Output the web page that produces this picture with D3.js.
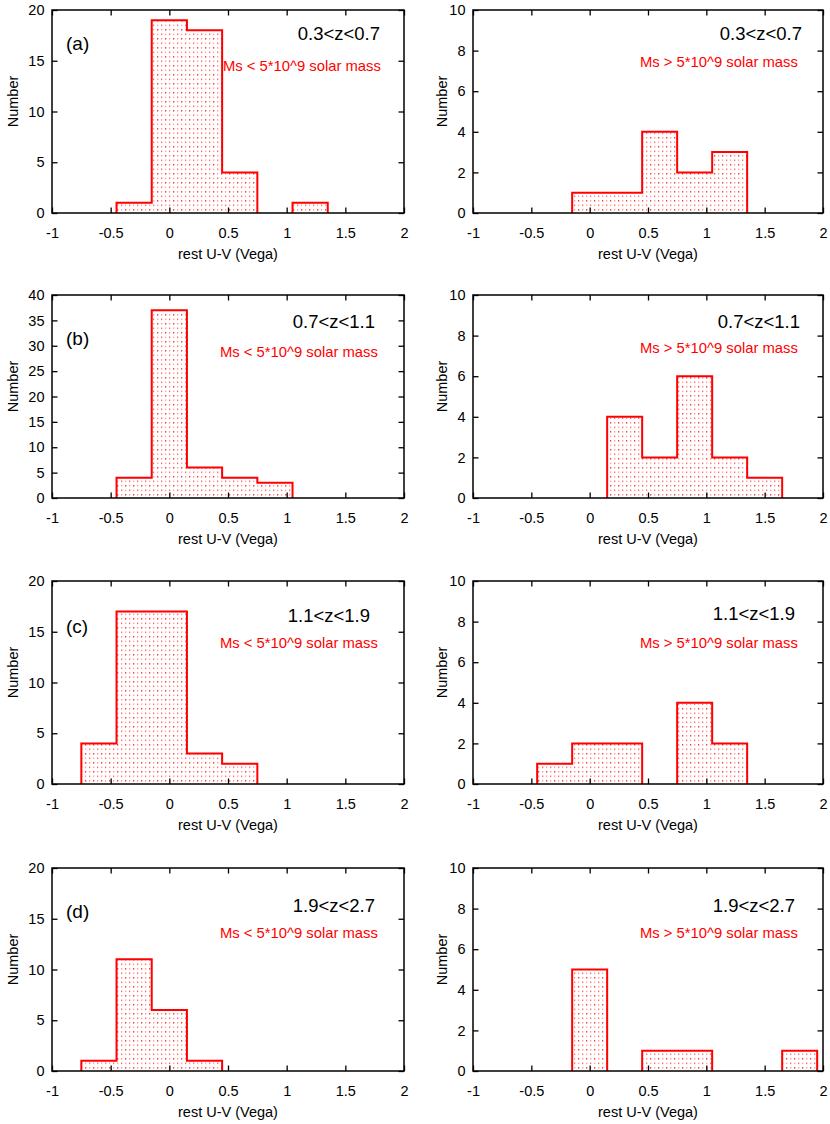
<!DOCTYPE html>
<html>
<head>
<meta charset="utf-8">
<script src="https://cdn.jsdelivr.net/npm/d3@7"></script>
<style>
  body { margin: 0; background: #fff; }
  svg { display: block; font-family: "Liberation Sans", Arial, sans-serif; }
  .axis path { display: none; }
  .axis line { stroke: #000; stroke-width: 1.3; }
  .axis text { font-size: 14.5px; fill: #000; }
</style>
</head>
<body>
<svg class="chart"></svg>
<script>
// histogram bins of rest U-V, width 0.3
var binCenters = [-0.6, -0.3, 0, 0.3, 0.6, 0.9, 1.2, 1.5, 1.8];
var binWidth = 0.3;

// counts, Ms < 5*10^9 (left column)
var lowMassA = [0, 1, 19, 18, 4, 0, 1, 0, 0];
var lowMassB = [0, 4, 37, 6, 4, 3, 0, 0, 0];
var lowMassC = [4, 17, 17, 3, 2, 0, 0, 0, 0];
var lowMassD = [1, 11, 6, 1, 0, 0, 0, 0, 0];

// counts, Ms > 5*10^9 (right column)
var highMassA = [0, 0, 1, 1, 4, 2, 3, 0, 0];
var highMassB = [0, 0, 0, 4, 2, 6, 2, 1, 0];
var highMassC = [0, 1, 2, 2, 0, 4, 2, 0, 0];
var highMassD = [0, 0, 5, 0, 1, 1, 0, 0, 1];

var panelLetters = ["(a)", "(b)", "(c)", "(d)"];
var zRanges = ["0.3<z<0.7", "0.7<z<1.1", "1.1<z<1.9", "1.9<z<2.7"];
var lowMassLabel = "Ms < 5*10^9 solar mass";
var highMassLabel = "Ms > 5*10^9 solar mass";

var yMaxLow = [20, 40, 20, 20], yStepLow = 5;
var yMaxHigh = [10, 10, 10, 10], yStepHigh = 2;
var xTicks = [-1, -0.5, 0, 0.5, 1, 1.5, 2];

//layout
var width = 830, height = 1124;
var cols = [{x0: 52, x1: 404}, {x0: 473, x1: 823}];
var rowTops = [10, 295, 581, 868], plotH = 203;
var titlePos = [[[-24, 30], [-29, 33], [-34, 41], [-29, 44]],
                [[-21, 30], [-23, 33], [-28, 39], [-28, 44]]];
var massPos = [[[171, 61], [168, 62], [168, 67], [168, 70]],
               [[167, 57], [167, 58], [167, 67], [167, 70]]];
var letterPos = [40, 50, 52, 50];

var red = "#ff0000";

var chart = d3.select(".chart")
    .attr("width", width)
    .attr("height", height);

// dotted fill like gnuplot pattern
var pat = chart.append("defs").append("pattern")
    .attr("id", "dots")
    .attr("patternUnits", "userSpaceOnUse")
    .attr("width", 8)
    .attr("height", 9);
[[1, 1, "#ff4040"], [5, 1, "#ffa0a0"], [1, 5.5, "#ffa8a8"], [5, 5.5, "#ff7070"]].forEach(function(p){
  pat.append("rect").attr("x", p[0]).attr("y", p[1]).attr("width", 1.3).attr("height", 1.6).attr("fill", p[2]);
});

var lowSets = [lowMassA, lowMassB, lowMassC, lowMassD];
var highSets = [highMassA, highMassB, highMassC, highMassD];

rowTops.forEach(function(top, r){
  [0, 1].forEach(function(c){
    var counts = c == 0 ? lowSets[r] : highSets[r];
    var yMax = c == 0 ? yMaxLow[r] : yMaxHigh[r];
    var yStep = c == 0 ? yStepLow : yStepHigh;
    var col = cols[c];
    var w = col.x1 - col.x0;

    var g = chart.append("g").attr("transform", "translate(" + col.x0 + "," + top + ")");

    var xScale = d3.scaleLinear().domain([-1, 2]).range([0, w]);
    var yScale = d3.scaleLinear().domain([0, yMax]).range([plotH, 0]);
    var yTicks = d3.range(0, yMax + yStep / 2, yStep);

    var bins = binCenters.map(function(x, i){
      return {x0: x - binWidth / 2, x1: x + binWidth / 2, n: counts[i]};
    });

    // pattern fill
    g.selectAll("rect.bin")
        .data(bins.filter(function(d){ return d.n > 0; }))
      .enter().append("rect")
        .attr("class", "bin")
        .attr("x", function(d){ return xScale(d.x0); })
        .attr("y", function(d){ return yScale(d.n); })
        .attr("width", function(d){ return xScale(d.x1) - xScale(d.x0); })
        .attr("height", function(d){ return yScale(0) - yScale(d.n); })
        .attr("fill", "url(#dots)");

    // step outline, one path per run of non-empty bins
    var runs = [], cur = null;
    bins.forEach(function(d){
      if (d.n > 0){
        if (!cur){ cur = [[d.x0, 0]]; runs.push(cur); }
        cur.push([d.x0, d.n], [d.x1, d.n]);
      } else if (cur){
        cur.push([cur[cur.length - 1][0], 0]);
        cur = null;
      }
    });
    if (cur) cur.push([cur[cur.length - 1][0], 0]);

    var line = d3.line()
        .x(function(d){ return xScale(d[0]); })
        .y(function(d){ return yScale(d[1]); });
    g.selectAll("path.step")
        .data(runs)
      .enter().append("path")
        .attr("class", "step")
        .attr("d", line)
        .attr("fill", "none")
        .attr("stroke", red)
        .attr("stroke-width", 2)
        .attr("stroke-linejoin", "miter");

    // frame
    g.append("rect")
        .attr("width", w)
        .attr("height", plotH)
        .attr("fill", "none")
        .attr("stroke", "#000")
        .attr("stroke-width", 1.5);

    // axes, ticks inward
    g.append("g")
        .attr("class", "axis x")
        .attr("transform", "translate(0," + plotH + ")")
        .call(d3.axisBottom(xScale).tickValues(xTicks).tickSizeInner(-5.5).tickSizeOuter(0)
          .tickPadding(15).tickFormat(function(d){ return String(d); }));
    g.append("g")
        .attr("class", "axis")
        .call(d3.axisTop(xScale).tickValues(xTicks).tickSizeInner(-5.5).tickSizeOuter(0).tickFormat(""));
    g.append("g")
        .attr("class", "axis y")
        .call(d3.axisLeft(yScale).tickValues(yTicks).tickSizeInner(-5.5).tickSizeOuter(0)
          .tickPadding(7.5).tickFormat(d3.format("d")));
    g.append("g")
        .attr("class", "axis")
        .attr("transform", "translate(" + w + ",0)")
        .call(d3.axisRight(yScale).tickValues(yTicks).tickSizeInner(-5.5).tickSizeOuter(0).tickFormat(""));

    // axis titles
    g.append("text")
        .attr("x", w / 2)
        .attr("y", plotH + 46)
        .attr("text-anchor", "middle")
        .attr("style", "font-size: 14.5px")
        .text("rest U-V (Vega)");
    g.append("text")
        .attr("transform", "translate(" + (c == 0 ? -34 : -26) + "," + (plotH / 2 - 10) + ") rotate(-90)")
        .attr("text-anchor", "middle")
        .attr("style", "font-size: 14.5px")
        .text("Number");

    // labels
    g.append("text")
        .attr("x", w + titlePos[c][r][0])
        .attr("y", titlePos[c][r][1])
        .attr("text-anchor", "end")
        .attr("style", "font-size: 18.5px")
        .text(zRanges[r]);
    g.append("text")
        .attr("x", massPos[c][r][0])
        .attr("y", massPos[c][r][1])
        .attr("fill", red)
        .attr("style", "font-size: 14.8px")
        .text(c == 0 ? lowMassLabel : highMassLabel);
    if (c == 0){
      g.append("text")
          .attr("x", 14)
          .attr("y", letterPos[r])
          .attr("style", "font-size: 19px")
          .text(panelLetters[r]);
    }
  });
});
</script>
</body>
</html>
